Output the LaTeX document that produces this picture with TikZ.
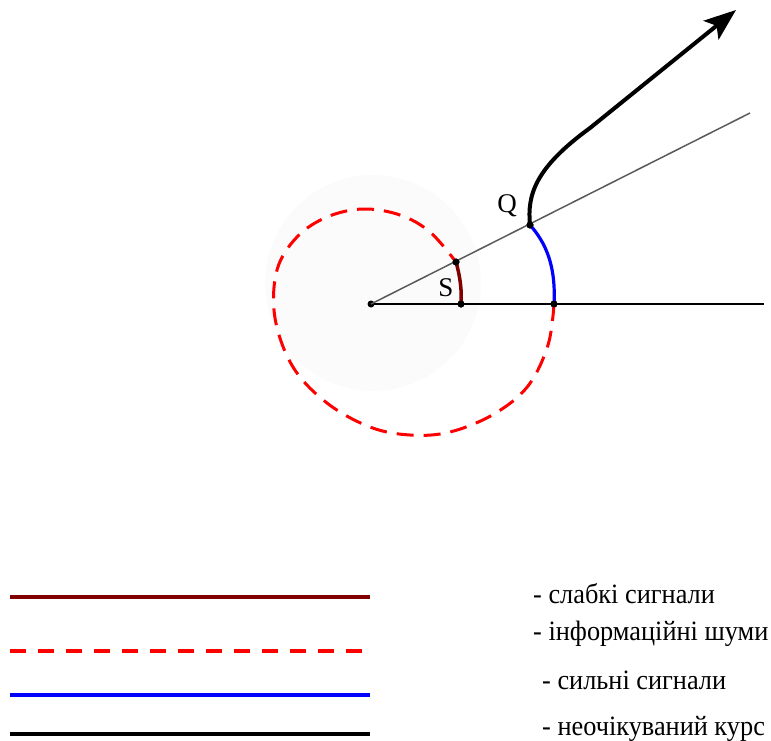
\documentclass[tikz,border=0pt]{standalone}
\usepackage{fontspec}
\setmainfont{Liberation Serif}
\usetikzlibrary{arrows.meta}
\definecolor{maroonc}{RGB}{128,0,0}
\definecolor{redc}{RGB}{255,0,0}
\definecolor{bluec}{RGB}{0,0,255}
\definecolor{rayc}{RGB}{90,90,90}
\definecolor{discc}{RGB}{251,251,251}
\tikzset{
  dot/.style={circle,fill=black,inner sep=0pt,minimum size=7pt},
  weak/.style={draw=maroonc,line width=3.5pt},
  noise/.style={draw=redc,line width=3pt,dash pattern=on 17pt off 10pt},
  strong/.style={draw=bluec,line width=3.2pt},
  course/.style={draw=black,line width=4pt},
  legtext/.style={anchor=base west,inner sep=0pt,font=\fontsize{28}{32}\selectfont},
  lbl/.style={inner sep=0pt,font=\fontsize{27}{30}\selectfont}
}
\begin{document}
\begin{tikzpicture}[x=1pt,y=-1pt]
\useasboundingbox (0,0) rectangle (771,740);
% faint disc
\fill[discc] (373,283) circle (108);
% points
\node[dot] (O) at (371,304) {};
\node[dot] (S1) at (461,304) {};
\node[dot] (B1) at (554,304) {};
\node[dot] (S2) at (456,262) {};
\node[dot] (Q) at (530,225) {};
\coordinate (Hend) at (764,304);
\coordinate (Rend) at (750,113);
\coordinate (Bend) at (590,128);
\coordinate (Tip) at (736,10);
% rays
\draw[black,line width=1.5pt] (O.center) -- (Hend);
\draw[rayc,line width=1.5pt] (O.center) -- (Rend);
% noise curve
\draw[noise] plot[smooth,tension=0.6] coordinates {
 (554,304) (548,345) (528,386) (494,414) (450,432) (410,435) (370,427)
 (327,403) (293,367) (275,318) (277,270) (297,237) (327,217) (363,209)
 (400,215) (430,232) (456,262)};
% weak signals
\draw[weak] (S2.center) .. controls (460,276) and (462,290) .. (S1.center);
% strong signals
\draw[strong] (Q.center) .. controls (546,243) and (556,266) .. (B1.center);
% unexpected course
\draw[course,-{Stealth[length=32pt,width=24pt,inset=7pt]}] (Q.center) .. controls (527,195) and (535,168) .. (Bend) -- (Tip);
\node[dot] at (Q) {};
\node[dot] at (S2) {};
\node[dot] at (S1) {};
\node[dot] at (B1) {};
% labels
\node[lbl] (Ql) at (507,206) {Q};
\node[lbl] (Sl) at (446,288) {S};
% legend
\coordinate (L1a) at (10,597); \coordinate (L1b) at (370,597);
\coordinate (L2a) at (10,651); \coordinate (L2b) at (366,651);
\coordinate (L3a) at (10,695); \coordinate (L3b) at (370,695);
\coordinate (L4a) at (10,734); \coordinate (L4b) at (370,734);
\draw[maroonc,line width=4pt] (L1a) -- (L1b);
\draw[redc,line width=4pt,dash pattern=on 16pt off 12pt] (L2a) -- (L2b);
\draw[bluec,line width=4pt] (L3a) -- (L3b);
\draw[black,line width=4pt] (L4a) -- (L4b);
\node[legtext] (T1) at (533,603) {\scalebox{0.94}[1]{- слабкі сигнали}};
\node[legtext] (T2) at (533,640) {\scalebox{0.94}[1]{- інформаційні шуми}};
\node[legtext] (T3) at (542,689) {\scalebox{0.94}[1]{- сильні сигнали}};
\node[legtext] (T4) at (542,735) {\scalebox{0.94}[1]{- неочікуваний курс}};
\end{tikzpicture}
\end{document}
